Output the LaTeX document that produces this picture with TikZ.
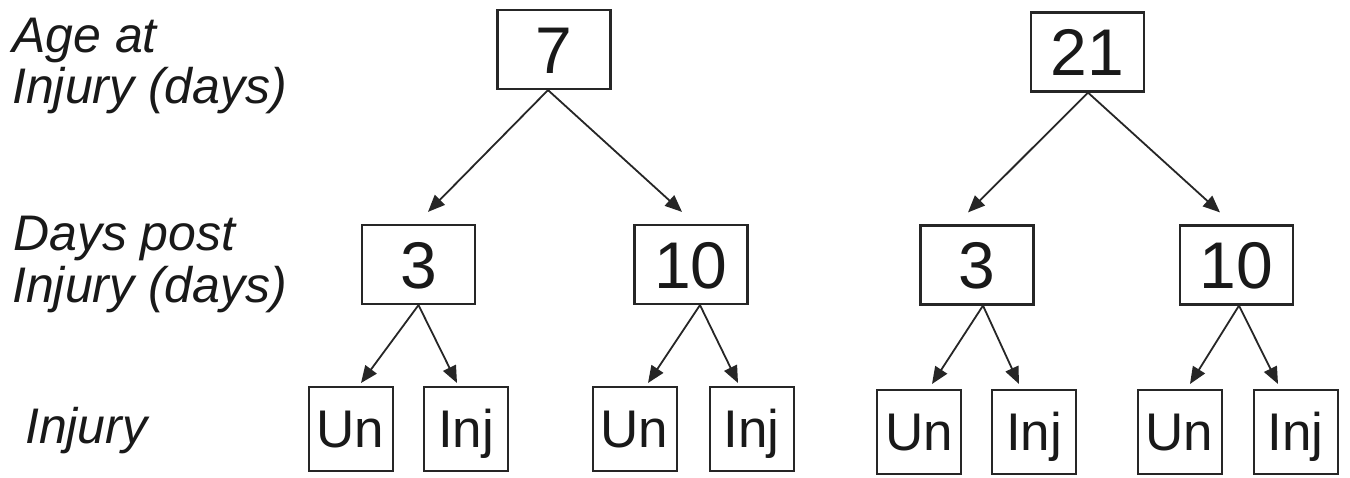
\documentclass[tikz,border=0pt]{standalone}
\usepackage{fontspec}
\setmainfont{Liberation Sans}
\usetikzlibrary{arrows.meta}
\tikzset{
  bigbox/.style={draw=black!85, line width=2.2pt, minimum width=113pt, minimum height=79pt,
    inner sep=0pt, text height=47pt, text depth=0pt, font=\fontsize{66}{66}\selectfont, text=black!90},
  smallbox/.style={draw=black!85, line width=2pt, minimum width=84pt, minimum height=84pt,
    inner sep=0pt, text height=37.5pt, text depth=0pt, font=\fontsize{53}{53}\selectfont, text=black!90},
  lab/.style={anchor=base west, inner sep=0pt, font=\fontsize{50}{50}\selectfont\itshape, text=black!90},
  arr/.style={draw=black!85, line width=1.8pt, -{Triangle[length=17pt,width=14pt]}},
}
\begin{document}
\begin{tikzpicture}[x=1pt,y=-1pt]
\fill[white] (0,0) rectangle (1350,477);
\useasboundingbox (0,0) rectangle (1350,477);
% row labels
\node[lab] (l1a) at (12,52) {Age at};
\node[lab] (l1b) at (12,103) {Injury (days)};
\node[lab] (l2a) at (13,250) {Days post};
\node[lab] (l2b) at (12,302) {Injury (days)};
\node[lab] (l3) at (25,443) {Injury};
% top
\node[bigbox] (t7) at (554,49.5) {7};
\node[bigbox] (t21) at (1087.5,52) {21};
% middle
\node[bigbox] (m1) at (418.5,264.5) {3};
\node[bigbox] (m2) at (691,264.5) {10};
\node[bigbox] (m3) at (977,265) {3};
\node[bigbox] (m4) at (1236.5,265) {10};
% bottom
\node[smallbox] (b1) at (350.5,429) {Un};
\node[smallbox] (b2) at (466,429) {Inj};
\node[smallbox] (b3) at (634.5,429) {Un};
\node[smallbox] (b4) at (751.5,429) {Inj};
\node[smallbox] (b5) at (919,432) {Un};
\node[smallbox] (b6) at (1034,432) {Inj};
\node[smallbox] (b7) at (1179.5,432) {Un};
\node[smallbox] (b8) at (1295.5,432) {Inj};
% arrows top -> middle
\draw[arr] ([xshift=-6pt]t7.south) -- ([xshift=9.5pt,yshift=12pt]m1.north);
\draw[arr] ([xshift=-6pt]t7.south) -- ([xshift=-9pt,yshift=12pt]m2.north);
\draw[arr] ([xshift=0.5pt]t21.south) -- ([xshift=-9pt,yshift=12pt]m3.north);
\draw[arr] ([xshift=0.5pt]t21.south) -- ([xshift=-16.5pt,yshift=12pt]m4.north);
% arrows middle -> bottom
\draw[arr] (m1.south) -- ([xshift=10.5pt,yshift=3pt]b1.north);
\draw[arr] (m1.south) -- ([xshift=-9pt,yshift=3pt]b2.north);
\draw[arr] ([xshift=9pt]m2.south) -- ([xshift=13.5pt,yshift=3pt]b3.north);
\draw[arr] ([xshift=9pt]m2.south) -- ([xshift=-13.5pt,yshift=3pt]b4.north);
\draw[arr] ([xshift=6pt]m3.south) -- ([xshift=13pt,yshift=5pt]b5.north);
\draw[arr] ([xshift=6pt]m3.south) -- ([xshift=-15pt,yshift=5pt]b6.north);
\draw[arr] ([xshift=2.5pt]m4.south) -- ([xshift=10.5pt,yshift=5pt]b7.north);
\draw[arr] ([xshift=2.5pt]m4.south) -- ([xshift=-17.5pt,yshift=5pt]b8.north);
\end{tikzpicture}
\end{document}
